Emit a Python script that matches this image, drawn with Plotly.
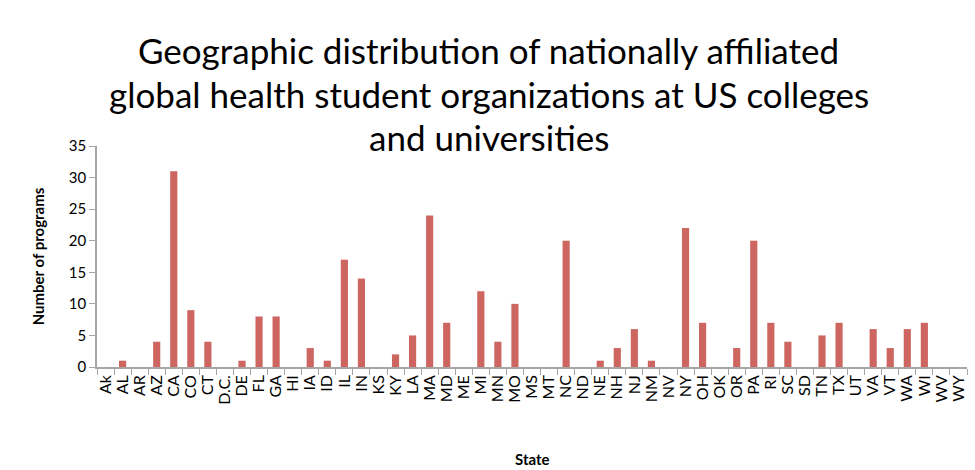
import plotly.graph_objects as go

states = ["Ak", "AL", "AR", "AZ", "CA", "CO", "CT", "D.C.", "DE", "FL", "GA", "HI", "IA", "ID",
          "IL", "IN", "KS", "KY", "LA", "MA", "MD", "ME", "MI", "MN", "MO", "MS", "MT", "NC",
          "ND", "NE", "NH", "NJ", "NM", "NV", "NY", "OH", "OK", "OR", "PA", "RI", "SC", "SD",
          "TN", "TX", "UT", "VA", "VT", "WA", "WI", "WV", "WY"]
programs = [0, 1, 0, 4, 31, 9, 4, 0, 1, 8, 8, 0, 3, 1,
            17, 14, 0, 2, 5, 24, 7, 0, 12, 4, 10, 0, 0, 20,
            0, 1, 3, 6, 1, 0, 22, 7, 0, 3, 20, 7, 4, 0,
            5, 7, 0, 6, 3, 6, 7, 0, 0]
y_ticks = [0, 5, 10, 15, 20, 25, 30, 35]
title_lines = ["Geographic distribution of nationally affiliated",
               "global health student organizations at US colleges",
               "and universities"]

fig = go.Figure(go.Bar(x=states, y=programs, marker_color="#CD6660", marker_line_width=0))

plot_h = 470 - 146 - 103
title_centers = [50, 94, 137]
for line, yc in zip(title_lines, title_centers):
    fig.add_annotation(
        text=line, xref="paper", yref="paper", x=0.45, y=(367 - yc) / plot_h,
        xanchor="center", yanchor="middle", showarrow=False,
        font=dict(size=35, family="Lato, sans-serif", color="black"),
    )
fig.add_annotation(
    text="<b>State</b>", xref="paper", yref="paper", x=0.5, y=(367 - 459) / plot_h,
    xanchor="center", yanchor="middle", showarrow=False,
    font=dict(size=15, family="Lato, sans-serif", color="black"),
)

fig.update_layout(
    width=975, height=470,
    plot_bgcolor="white", paper_bgcolor="white",
    margin=dict(l=97, r=8, t=146, b=103, autoexpand=False),
    bargap=0.58,
    showlegend=False,
    font=dict(family="Lato, Open Sans, sans-serif", color="black"),
)
fig.update_xaxes(
    type="category", tickmode="array", tickvals=states, ticktext=states,
    tickangle=-90, tickson="boundaries",
    ticks="outside", ticklen=6, tickcolor="#A6A6A6",
    showline=True, linecolor="#A6A6A6", linewidth=1.5, automargin=False,
    showgrid=False, tickfont=dict(size=16, color="black"),
)
fig.update_yaxes(
    range=[0, 35], tickvals=y_ticks, automargin=False,
    ticks="outside", ticklen=6, tickcolor="#A6A6A6",
    showline=True, linecolor="#A6A6A6", linewidth=1.5,
    showgrid=False, zeroline=False, tickfont=dict(size=15, color="black"),
    title=dict(text="<b>Number of programs</b>", font=dict(size=15, color="black"), standoff=21),
)

fig.write_html("out.html", config={"displayModeBar": False},
               post_script="document.body.style.margin='0';")
